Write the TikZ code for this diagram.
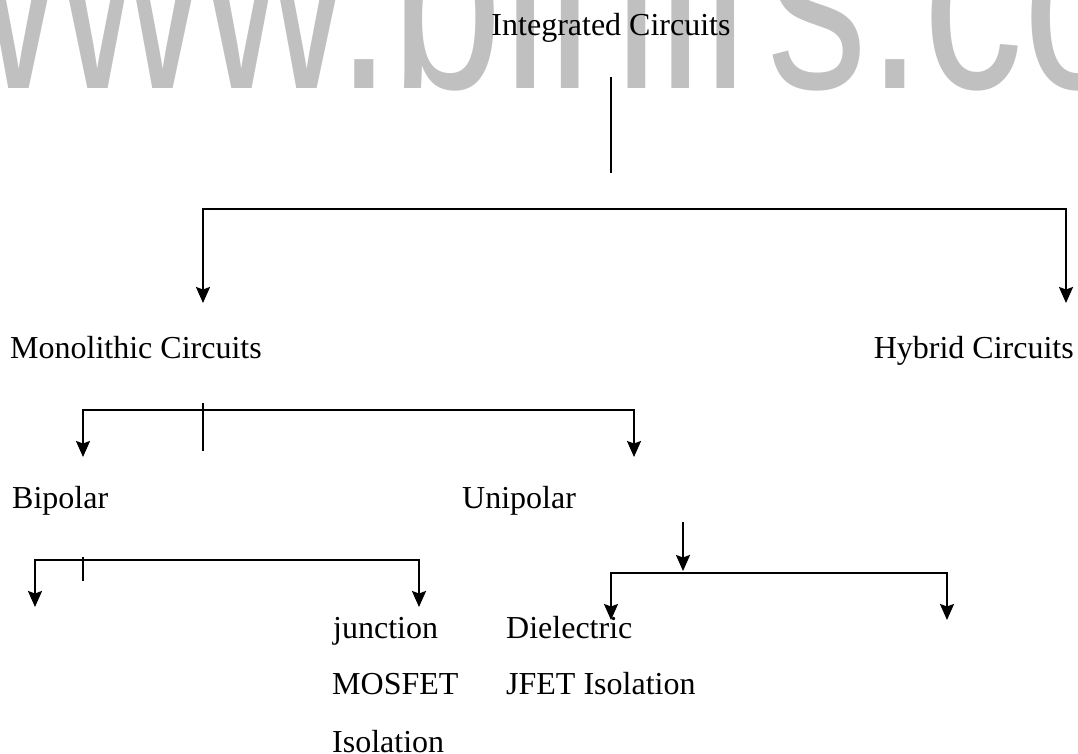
\documentclass[tikz,border=0pt]{standalone}
\usepackage{fontspec}
\usepackage{graphicx}
\setmainfont{Liberation Serif}
\newfontfamily\wmfont{Liberation Sans}
\usetikzlibrary{arrows.meta}
\definecolor{wm}{RGB}{192,192,192}
\tikzset{
  lbl/.style={font=\fontsize{32}{38}\selectfont, inner sep=0pt, anchor=base west},
  conn/.style={line width=2pt, line cap=butt},
  tip/.tip={Stealth[length=16pt,width=14pt,inset=2.5pt]},
  arr/.style={conn, -tip},
  darr/.style={conn, tip-tip}
}
\begin{document}
\begin{tikzpicture}[x=1pt,y=-1pt]
\useasboundingbox (0,0) rectangle (1078,753);
\clip (0,0) rectangle (1078,753);
\fill[white] (0,0) rectangle (1078,753);
% watermark
\node[anchor=base west, inner sep=0pt, text=wm, font=\wmfont\fontsize{200}{200}\selectfont] (wmark) at (-86,88) {\scalebox{1}[1.35]{www.binil\kern20pt s.co}};
% texts
\node[lbl, anchor=base] (ic) at (611,35) {Integrated Circuits};
\node[lbl] (mono) at (10,358) {Monolithic Circuits};
\node[lbl, anchor=base east] (hyb) at (1074,358) {Hybrid Circuits};
\node[lbl] (bip) at (12,508) {Bipolar};
\node[lbl] (uni) at (462,508) {Unipolar};
\node[lbl] (junc) at (333,638) {junction};
\node[lbl] (mos) at (332,694) {MOSFET};
\node[lbl] (iso) at (332,752) {Isolation};
\node[lbl] (diel) at (506,638) {Dielectric};
\node[lbl] (jfet) at (506,694) {JFET Isolation};
% coordinates
\coordinate (r0) at (611,77);  \coordinate (r1) at (611,173);
\coordinate (a1) at (203,303); \coordinate (a2) at (203,209);
\coordinate (a3) at (1066,209); \coordinate (a4) at (1066,303);
\coordinate (b1) at (83,457);  \coordinate (b2) at (83,410);
\coordinate (b3) at (634,410); \coordinate (b4) at (634,457);
\coordinate (bt0) at (203,403); \coordinate (bt1) at (203,451);
\coordinate (u0) at (683,522); \coordinate (u1) at (683,571);
\coordinate (c1) at (611,620); \coordinate (c2) at (611,573);
\coordinate (c3) at (947,573); \coordinate (c4) at (947,620);
\coordinate (d1) at (35,607);  \coordinate (d2) at (35,560);
\coordinate (d3) at (419,560); \coordinate (d4) at (419,607);
\coordinate (dt0) at (83,557); \coordinate (dt1) at (83,581);
% connectors
\draw[conn] (r0) -- (r1);
\draw[darr] (a1) -- (a2) -- (a3) -- (a4);
\draw[darr] (b1) -- (b2) -- (b3) -- (b4);
\draw[conn] (bt0) -- (bt1);
\draw[arr] (u0) -- (u1);
\draw[darr] (c1) -- (c2) -- (c3) -- (c4);
\draw[darr] (d1) -- (d2) -- (d3) -- (d4);
\draw[conn] (dt0) -- (dt1);
\end{tikzpicture}
\end{document}
